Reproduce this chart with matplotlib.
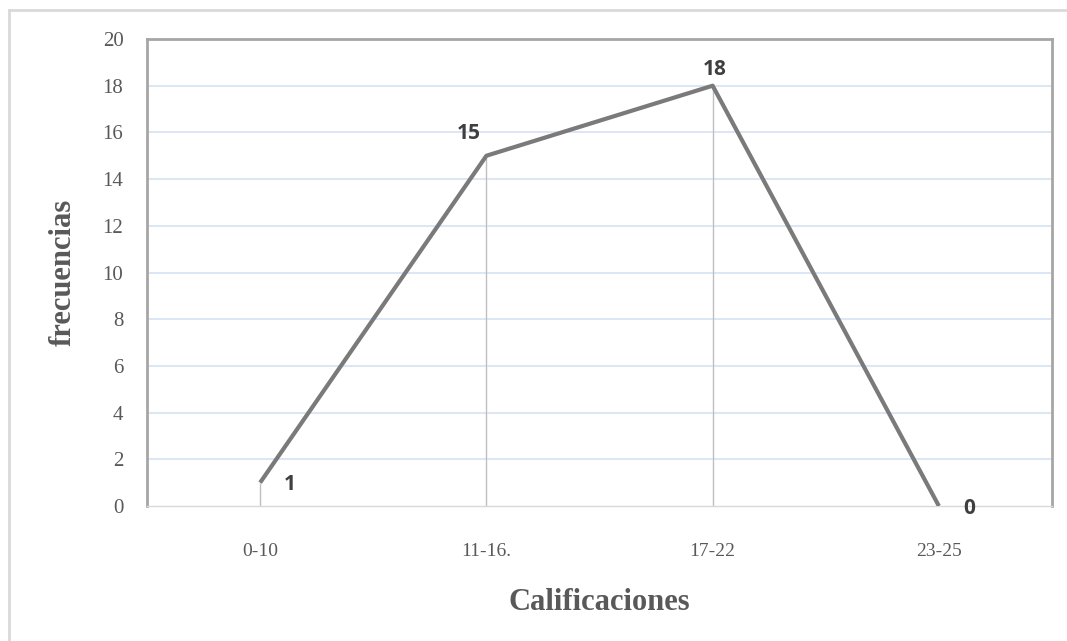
import numpy as np
import matplotlib
matplotlib.use("Agg")
import matplotlib.pyplot as plt
from matplotlib.lines import Line2D

# data
categories = ["0-10", "11-16.", "17-22", "23-25"]
frecuencias = [1, 15, 18, 0]
yticks = [0, 2, 4, 6, 8, 10, 12, 14, 16, 18, 20]

fig = plt.figure(figsize=(10.67, 6.41), dpi=100)
ax = fig.add_axes([147/1067, 1 - 506/641, (1052 - 147)/1067, (506 - 39)/641])

x = np.arange(len(categories))

# light blue gridlines
for yv in yticks[1:-1]:
    ax.axhline(yv, color="#d6e3f3", lw=1.2, zorder=0)

# drop lines
ax.vlines(x, 0, frecuencias, color="#bfbfbf", lw=1, zorder=1)

ax.plot(x, frecuencias, color="#7a7a7a", lw=3, solid_capstyle="butt", zorder=3)

# data labels
offsets = [(21, -1.5), (-13, 16), (1.5, 11.5), (21.5, -1.5)]
for xi, yi, (dx, dy) in zip(x, frecuencias, offsets):
    ax.annotate(str(yi), (xi, yi), xytext=(dx, dy), textcoords="offset points",
                ha="center", va="center", fontsize=15, fontweight="bold",
                color="#3f3f3f", family="Open Sans")

ax.set_xlim(-0.5, 3.5)
ax.set_ylim(0, 20)
ax.set_xticks(x)
ax.set_xticklabels(categories, family="Liberation Serif", fontsize=14, color="#595959")
ax.set_yticks(yticks)
ax.set_yticklabels([str(v) for v in yticks], family="Liberation Serif", fontsize=15, color="#595959")
ax.tick_params(length=0)
ax.tick_params(axis="x", pad=27)
ax.tick_params(axis="y", pad=17)

for side in ["left", "top", "right"]:
    ax.spines[side].set_color("#a6a6a6")
    ax.spines[side].set_linewidth(2)
ax.spines["bottom"].set_color("#d9d9d9")
ax.spines["bottom"].set_linewidth(1)

ax.set_xlabel("Calificaciones", family="Liberation Serif", fontsize=22,
              fontweight="bold", color="#595959", labelpad=20)
ax.set_ylabel("frecuencias", family="Liberation Serif", fontsize=22,
              fontweight="bold", color="#595959", labelpad=18)

# outer border
fig.add_artist(Line2D([9/1067, 9/1067], [0, 1 - 10/641], transform=fig.transFigure,
                      color="#d9d9d9", lw=2))
fig.add_artist(Line2D([9/1067, 1], [1 - 10/641, 1 - 10/641], transform=fig.transFigure,
                      color="#d9d9d9", lw=2))

fig.savefig("out.png", dpi=100)
